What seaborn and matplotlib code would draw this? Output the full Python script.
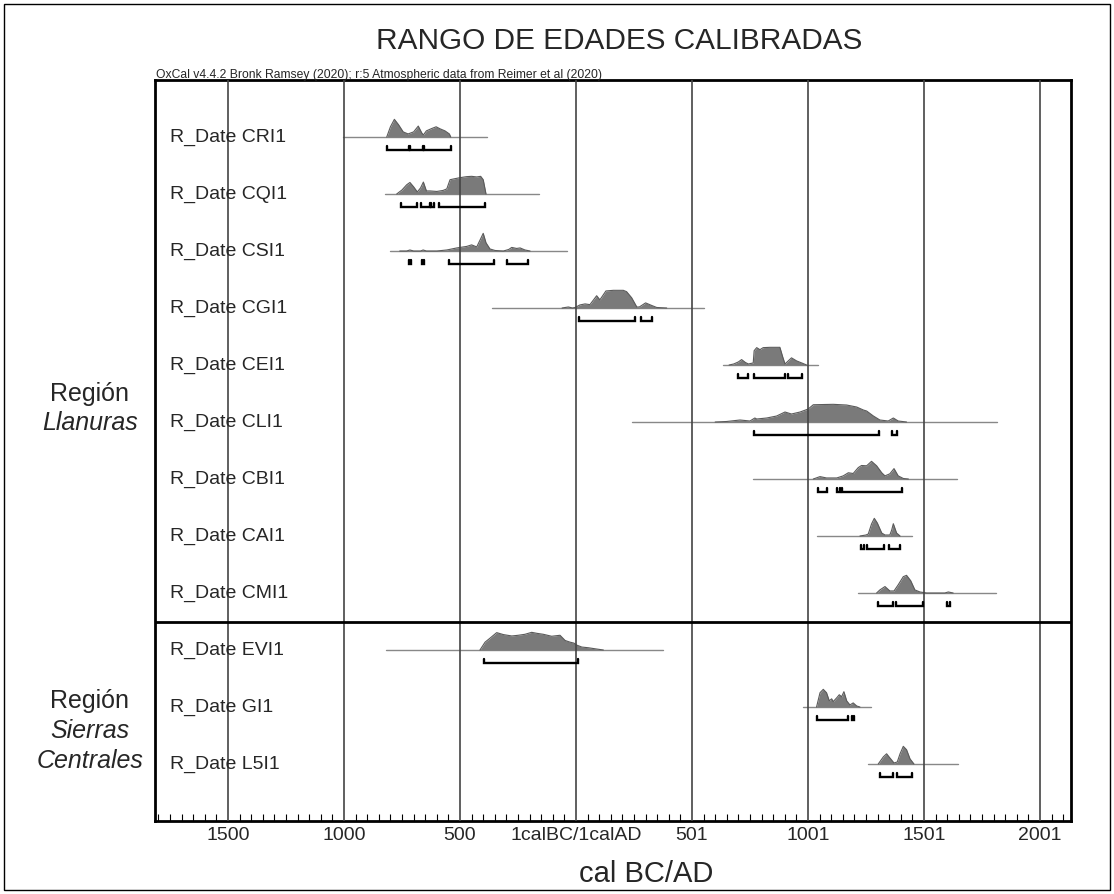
#!/usr/bin/env python3

import pandas as pd
import matplotlib.pyplot as plt
import seaborn as sns
from matplotlib.ticker import MultipleLocator
from matplotlib.patches import Rectangle

sns.set_theme(style='white')
plt.rcParams['font.family'] = ['Liberation Sans', 'DejaVu Sans']

# Sample names (top to bottom)
samples = ['CRI1', 'CQI1', 'CSI1', 'CGI1', 'CEI1', 'CLI1', 'CBI1', 'CAI1', 'CMI1',
           'EVI1', 'GI1', 'L5I1']

# Extent of the thin base line of each distribution (cal BC negative)
spans = {
    'CRI1': (-1006, -382), 'CQI1': (-823, -158), 'CSI1': (-802, -40),
    'CGI1': (-363, 552), 'CEI1': (635, 1044), 'CLI1': (240, 1813),
    'CBI1': (761, 1644), 'CAI1': (1040, 1448), 'CMI1': (1217, 1810),
    'EVI1': (-819, 374), 'GI1': (977, 1270), 'L5I1': (1260, 1645),
}

# Calibrated probability (relative)
years = {
    'CRI1': [-816, -800, -783, -765, -745, -724, -700, -680, -665, -658, -645, -622,
             -603, -586, -565, -546, -540],
    'CQI1': [-773, -750, -730, -716, -700, -684, -670, -658, -645, -629, -600, -573,
             -557, -543, -522, -500, -471, -450, -428, -411, -400, -388],
    'CSI1': [-760, -730, -716, -700, -670, -659, -645, -600, -557, -514, -471, -450,
             -428, -411, -400, -388, -371, -349, -313, -290, -277, -256, -241, -220, -198],
    'CGI1': [-60, -33, -15, -4, 17, 39, 60, 89, 103, 129, 161, 204, 218, 240, 262, 273,
             300, 326, 348, 391],
    'CEI1': [660, 680, 700, 714, 730, 743, 764, 768, 779, 793, 807, 836, 879, 891, 901,
             915, 929, 951, 973, 994],
    'CLI1': [600, 649, 707, 750, 771, 779, 822, 865, 901, 929, 966, 1001, 1023, 1109,
             1167, 1210, 1239, 1253, 1282, 1310, 1346, 1368, 1389, 1425],
    'CBI1': [1023, 1052, 1080, 1124, 1152, 1174, 1195, 1217, 1231, 1253, 1274, 1296,
             1318, 1332, 1353, 1371, 1389, 1411, 1433],
    'CAI1': [1224, 1250, 1260, 1274, 1286, 1299, 1318, 1332, 1353, 1361, 1368, 1382, 1397],
    'CMI1': [1296, 1310, 1332, 1353, 1371, 1389, 1411, 1425, 1443, 1461, 1483, 1512,
             1590, 1605, 1626],
    'EVI1': [-414, -392, -371, -342, -313, -277, -249, -220, -191, -169, -141, -105,
             -69, -47, -26, -9, 3, 25, 53, 89, 118],
    'GI1': [1037, 1052, 1066, 1080, 1092, 1102, 1109, 1124, 1135, 1145, 1155, 1167,
            1181, 1195, 1210, 1224],
    'L5I1': [1303, 1325, 1339, 1353, 1371, 1385, 1397, 1411, 1425, 1440, 1457],
}
probs = {
    'CRI1': [0, 10, 17.3, 12, 5, 3, 5, 10.7, 4, 2, 6, 8.3, 10, 8, 6, 3, 0],
    'CQI1': [0, 4, 9, 11.3, 7, 2, 6, 11.7, 3, 3, 2.5, 3.5, 5, 14, 15, 16, 17, 17.3,
             16.7, 17.3, 14, 0],
    'CSI1': [0, 0, 1, 0, 0, 1, 0, 0, 1, 3, 4.5, 6, 4, 12, 17.3, 8, 2, 0.5, 0, 1.5,
             3.5, 2.5, 3, 1, 0],
    'CGI1': [0, 1, 0, 0.5, 3, 4, 3.3, 12, 8, 16.7, 17.3, 17.3, 16, 10, 1, 1, 5, 2.5,
             0.5, 0],
    'CEI1': [0, 1, 3, 5.3, 2.5, 1, 2, 14, 17, 15, 17, 17.3, 17.3, 8, 1, 4, 7, 4, 2, 0],
    'CLI1': [0, 0.5, 2, 1, 4, 3, 4, 6, 10, 8, 10, 13, 17.3, 17.7, 17, 15, 12, 11, 6,
             2, 1, 4, 1, 0],
    'CBI1': [0, 2.3, 1, 1, 3, 6, 5.3, 11, 13, 12.7, 17, 12.7, 6, 3, 5, 10, 3, 0.5, 0],
    'CAI1': [0, 1, 2, 12, 17.7, 13, 3, 1, 1, 6, 12.3, 3, 0],
    'CMI1': [0, 3, 6.3, 2, 2, 8, 16, 17.3, 12, 3, 1, 0, 0, 1, 0],
    'EVI1': [0, 8, 12, 17.7, 15.7, 14.3, 15, 16, 18, 17, 16, 14, 15, 9.7, 8, 7, 5, 3,
             2.3, 1, 0],
    'GI1': [0, 14, 17.3, 14, 6, 8, 5.3, 9, 12, 10, 15, 6, 2, 4, 1, 0],
    'L5I1': [0, 7, 10, 6, 1, 2, 10, 17.3, 14, 5, 0],
}

# 95.4% ranges
ranges = {
    'CRI1': [(-813, -718), (-714, -661), (-657, -540)],
    'CQI1': [(-754, -684), (-670, -631), (-625, -614), (-591, -392)],
    'CSI1': [(-720, -712), (-662, -654), (-546, -353), (-299, -206)],
    'CGI1': [(14, 254), (279, 329)],
    'CEI1': [(700, 740), (767, 901), (912, 975)],
    'CLI1': [(769, 1307), (1363, 1385)],
    'CBI1': [(1044, 1083), (1126, 1138), (1145, 1404)],
    'CAI1': [(1227, 1243), (1253, 1328), (1349, 1397)],
    'CMI1': [(1300, 1368), (1378, 1494), (1600, 1612)],
    'EVI1': [(-395, 10)],
    'GI1': [(1037, 1174), (1190, 1198)],
    'L5I1': [(1310, 1365), (1382, 1447)],
}

tick_pos = [-1500, -1000, -500, 0, 500, 1000, 1500, 2000]
tick_labels = ['1500', '1000', '500', '1calBC/1calAD', '501', '1001', '1501', '2001']

PEAK = 0.31      # peak height in row units
BR_OFF = 0.225   # bracket offset below base line
BR_H = 0.07      # bracket tick height

# long table for seaborn
rows = []
for i, s in enumerate(samples):
    pmax = max(probs[s])
    for yr, p in zip(years[s], probs[s]):
        rows.append({'sample': s, 'row': i, 'year': yr, 'y': i - PEAK * p / pmax})
df = pd.DataFrame(rows)

fig = plt.figure(figsize=(11.14, 8.94), dpi=100)
W, H = 1114, 894
ax = fig.add_axes([155 / W, 1 - 821 / H, (1071 - 155) / W, (821 - 80) / H])

# base lines
for i, s in enumerate(samples):
    ax.plot(spans[s], [i, i], color='#888888', lw=1, zorder=1)

# filled distributions
for i, s in enumerate(samples):
    d = df[df['sample'] == s]
    ax.fill_between(d['year'], d['y'], i, color='#7a7a7a', lw=0, zorder=2)
sns.lineplot(data=df, x='year', y='y', units='sample', estimator=None, sort=False,
             color='#5a5a5a', lw=0.8, ax=ax, legend=False, zorder=2)

# range brackets
for i, s in enumerate(samples):
    yb = i + BR_OFF
    for a, b in ranges[s]:
        ax.plot([a, a, b, b], [yb - BR_H, yb, yb, yb - BR_H], color='black', lw=1.7,
                solid_joinstyle='miter', zorder=4)

# grid lines
ax.vlines(tick_pos, -1, 12, color='#444444', lw=1.2, zorder=3)
# divider between regions
ax.axhline(8.5, color='black', lw=2, zorder=5)

# row labels
for i, s in enumerate(samples):
    ax.text(0.0164, i, f'R_Date {s}', transform=ax.get_yaxis_transform(),
            fontsize=14, va='center', ha='left', zorder=6)

ax.set_xlim(-1815, 2134)
ax.set_ylim(12, -1)
ax.set_xticks(tick_pos)
ax.set_xticklabels(tick_labels, fontsize=14)
ax.xaxis.set_minor_locator(MultipleLocator(50))
ax.tick_params(axis='x', which='major', length=0, pad=4)
ax.tick_params(axis='x', which='minor', direction='in', length=5, width=0.8,
               color='black', bottom=True)
ax.set_yticks([])
ax.set_xlabel('')
ax.set_ylabel('')
for sp in ax.spines.values():
    sp.set_color('black')
    sp.set_linewidth(2)
    sp.set_visible(True)

# texts
fig.text(619 / W, 1 - 41 / H, 'RANGO DE EDADES CALIBRADAS', fontsize=21.4,
         ha='center', va='center')
fig.text(156 / W, 1 - 78 / H,
         'OxCal v4.4.2 Bronk Ramsey (2020); r:5 Atmospheric data from Reimer et al (2020)',
         fontsize=8.7, ha='left', va='baseline')
fig.text(646 / W, 1 - 874 / H, 'cal BC/AD', fontsize=21, ha='center', va='center')

fig.text(90 / W, 1 - 394 / H, 'Región', fontsize=18, ha='center', va='center')
fig.text(90 / W, 1 - 423 / H, 'Llanuras', fontsize=18, ha='center', va='center',
         style='italic')
fig.text(90 / W, 1 - 701 / H, 'Región', fontsize=18, ha='center', va='center')
fig.text(90 / W, 1 - 731 / H, 'Sierras', fontsize=18, ha='center', va='center',
         style='italic')
fig.text(90 / W, 1 - 761 / H, 'Centrales', fontsize=18, ha='center', va='center',
         style='italic')

# outer frame
fig.patches.append(Rectangle((0.004, 0.004), 0.992, 0.992, transform=fig.transFigure,
                             fill=False, edgecolor='black', lw=1))

plt.savefig('out.png', dpi=100)
